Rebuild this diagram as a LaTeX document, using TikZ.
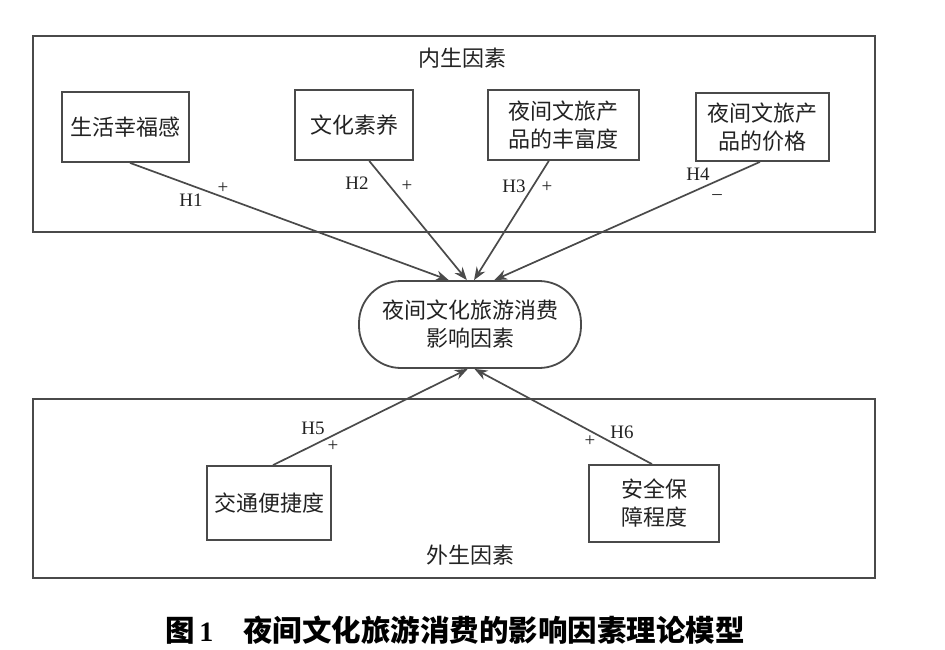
\documentclass[tikz,border=0pt]{standalone}
\usepackage{fontspec}
\setmainfont{Liberation Serif}
\newfontfamily\cjk{Noto Sans CJK SC}
\usetikzlibrary{calc,arrows.meta}
\definecolor{linec}{HTML}{4A4A4A}
\definecolor{textc}{HTML}{222222}
\begin{document}
\begin{tikzpicture}[x=1pt,y=-1pt,
  frame/.style={draw=linec, line width=1.8pt},
  box/.style={draw=linec, line width=1.8pt, inner sep=0pt, align=center, text=textc,
    font=\cjk\fontsize{22}{28}\selectfont},
  plain/.style={inner sep=0pt, text=textc, font=\cjk\fontsize{22}{28}\selectfont},
  arr/.style={draw=linec, line width=1.7pt, -{Stealth[length=13pt,width=10pt]}},
  hl/.style={inner sep=0pt, text=textc, font=\fontsize{19}{19}\selectfont}]
\useasboundingbox (0,0) rectangle (945,649);
\fill[white] (0,0) rectangle (945,649);
% frames
\draw[frame] (33,36) rectangle (875,232);
\draw[frame] (33,399) rectangle (875,578);
\node[plain] (tin) at (462,58) {内生因素};
\node[plain] (tout) at (470,555) {外生因素};
% boxes
\node[box, minimum width=127pt, minimum height=70pt] (b1) at (125.5,127) {生活幸福感};
\node[box, minimum width=118pt, minimum height=70pt] (b2) at (354,125) {文化素养};
\node[box, minimum width=151pt, minimum height=70pt] (b3) at (563.5,125) {夜间文旅产\\品的丰富度};
\node[box, minimum width=133pt, minimum height=68pt] (b4) at (762.5,127) {夜间文旅产\\品的价格};
\node[box, rounded corners=42pt, minimum width=222pt, minimum height=87pt] (c) at (470,324.5) {夜间文化旅游消费\\影响因素};
\node[box, minimum width=124pt, minimum height=74pt] (b5) at (269,503) {交通便捷度};
\node[box, minimum width=130pt, minimum height=77pt] (b6) at (654,503.5) {安全保\\障程度};
% arrows
\draw[arr] ($(b1.south west)!0.535!(b1.south east)$) -- ($(c.north west)!0.405!(c.north east)$);
\draw[arr] ($(b2.south west)!0.627!(b2.south east)$) -- ($(c.north west)!0.486!(c.north east)$);
\draw[arr] ($(b3.south west)!0.404!(b3.south east)$) -- ($(c.north west)!0.518!(c.north east)$);
\draw[arr] ($(b4.south west)!0.481!(b4.south east)$) -- ($(c.north west)!0.608!(c.north east)$);
\draw[arr] ($(b5.north west)!0.532!(b5.north east)$) -- ($(c.south west)!0.49!(c.south east)$);
\draw[arr] ($(b6.north west)!0.485!(b6.north east)$) -- ($(c.south west)!0.52!(c.south east)$);
% labels
\node[hl] (h1) at (191,200) {H1};
\node[hl] (p1) at (223,188) {+};
\node[hl] (h2) at (357,183) {H2};
\node[hl] (p2) at (407,186) {+};
\node[hl] (h3) at (514,186) {H3};
\node[hl] (p3) at (547,187) {+};
\node[hl] (h4) at (698,174) {H4};
\node[hl] (m4) at (717,197) {–};
\node[hl] (h5) at (313,428) {H5};
\node[hl] (p5) at (333,446) {+};
\node[hl] (h6) at (622,432) {H6};
\node[hl] (p6) at (590,441) {+};
% caption
\node[inner sep=0pt, text=black] (cap) at (455,630) {{\cjk\bfseries\fontsize{29.5}{32}\selectfont 图}{\bfseries\fontsize{28}{32}\selectfont\,1}\hspace{30pt}{\cjk\bfseries\fontsize{29.5}{32}\selectfont 夜间文化旅游消费的影响因素理论模型}};
\end{tikzpicture}
\end{document}
